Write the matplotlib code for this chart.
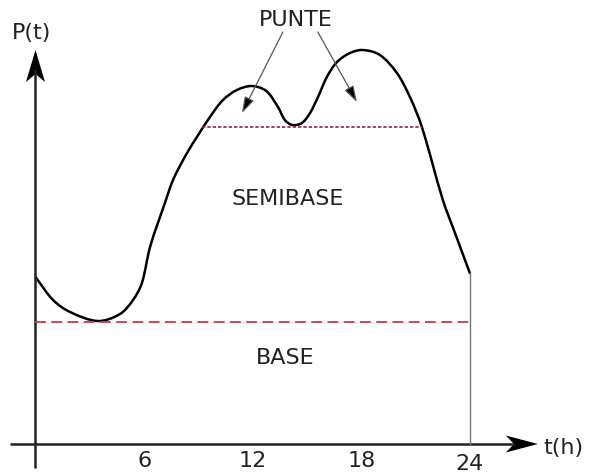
import matplotlib
matplotlib.use("Agg")
import matplotlib.pyplot as plt
from matplotlib.patches import Polygon, PathPatch
from matplotlib.path import Path

# ---- data ----
t_vals = [0.0, 0.97, 1.91, 3.45, 4.67, 5.39, 5.88, 6.33, 7.15, 7.60, 8.31, 8.92, 9.64,
          10.36, 11.13, 11.96, 12.75, 13.40, 13.78, 14.20, 14.72, 15.17, 15.61,
          16.10, 16.66, 17.38, 18.09, 19.03, 19.97, 20.69, 21.35, 22.51,
          23.18, 24.0]
p_vals = [16.7, 14.4, 13.2, 12.3, 13.0, 14.4, 16.1, 19.7, 24.1, 26.4, 28.9, 30.7, 32.7,
          34.4, 35.4, 35.8, 35.3, 33.7, 32.4, 31.9, 32.1, 33.1, 34.7,
          36.7, 38.2, 39.1, 39.4, 38.9, 37.1, 34.7, 31.7, 24.4,
          21.1, 17.1]
base_level = 12.2
semibase_level = 31.7
semibase_start, semibase_end = 9.2, 21.35
t_end = 24
tick_values = [6, 12, 18, 24]
tick_labels = ["6", "12", "18", "24"]

fig = plt.figure(figsize=(5.9, 4.73), dpi=100)
ax = fig.add_axes([0, 0, 1, 1])
ax.set_xlim(-1.961, 30.64)
ax.set_ylim(-2.9, 44.4)
ax.axis("off")

fs = 16
tc = "#222222"
sx, sy = 18.1, 10.0  # px per data unit

# axes lines
ax.plot([0, 0], [-2.4, 37.5], color=tc, lw=1.8, solid_capstyle="butt")
ax.plot([-1.41, 26.5], [0, 0], color=tc, lw=1.8, solid_capstyle="butt")

# arrow heads (stealth-like)
ytip = 39.4
ax.add_patch(Polygon([(0, ytip), (-9.5 / sx, ytip - 32 / sy), (0, ytip - 24 / sy),
                      (9.5 / sx, ytip - 32 / sy)], closed=True, color="black", lw=0))
xtip = 27.76
ax.add_patch(Polygon([(xtip, 0), (xtip - 32 / sx, 8.5 / sy), (xtip - 24 / sx, 0),
                      (xtip - 32 / sx, -8.5 / sy)], closed=True, color="black", lw=0))

# base and semibase lines
ax.plot([0, t_end], [base_level, base_level], color="#c8384a", lw=1.3,
        dashes=(6, 3))
ax.plot([semibase_start, semibase_end], [semibase_level, semibase_level],
        color="#9b2335", lw=1.2, dashes=(2, 1.2))

# load curve: smooth Bezier path through the read points (chord-length tangents)
pts = [(t * sx, p * sy) for t, p in zip(t_vals, p_vals)]
n = len(pts)
d = [((pts[i + 1][0] - pts[i][0]) ** 2 + (pts[i + 1][1] - pts[i][1]) ** 2) ** 0.5
     for i in range(n - 1)]
tang = []
for i in range(n):
    if i == 0:
        tang.append(((pts[1][0] - pts[0][0]) / d[0], (pts[1][1] - pts[0][1]) / d[0]))
    elif i == n - 1:
        tang.append(((pts[-1][0] - pts[-2][0]) / d[-1], (pts[-1][1] - pts[-2][1]) / d[-1]))
    else:
        s = d[i - 1] + d[i]
        tang.append(((pts[i + 1][0] - pts[i - 1][0]) / s,
                     (pts[i + 1][1] - pts[i - 1][1]) / s))
verts = [pts[0]]
codes = [Path.MOVETO]
for i in range(n - 1):
    L = d[i] / 3
    c1 = (pts[i][0] + tang[i][0] * L, pts[i][1] + tang[i][1] * L)
    c2 = (pts[i + 1][0] - tang[i + 1][0] * L, pts[i + 1][1] - tang[i + 1][1] * L)
    verts += [c1, c2, pts[i + 1]]
    codes += [Path.CURVE4] * 3
verts = [(x / sx, y / sy) for x, y in verts]
ax.add_patch(PathPatch(Path(verts, codes), fill=False, ec="black", lw=1.8,
                       capstyle="round", joinstyle="round"))

# closing vertical line at 24 h
ax.plot([t_end, t_end], [0, p_vals[-1]], color="#777777", lw=1.0)

# tick labels
for tv, tl in zip(tick_values, tick_labels):
    dy = -1.65 if tv != 24 else -2.0
    ax.text(tv, dy, tl, ha="center", va="center", fontsize=fs, color=tc)

# labels
ax.text(-0.2, 41.1, "P(t)", ha="center", va="center", fontsize=fs, color=tc)
ax.text(29.15, -0.4, "t(h)", ha="center", va="center", fontsize=fs, color=tc)
ax.text(14.4, 42.4, "PUNTE", ha="center", va="center", fontsize=fs, color=tc)
ax.text(13.95, 24.5, "SEMIBASE", ha="center", va="center", fontsize=fs, color=tc)
ax.text(13.8, 8.6, "BASE", ha="center", va="center", fontsize=fs, color=tc)

# annotation arrows
arrow_kw = dict(arrowstyle="-|>,head_length=0.7,head_width=0.22", fc="black",
                ec="#555555", lw=0.9, mutation_scale=14, shrinkA=0, shrinkB=0)
ax.annotate("", xy=(11.41, 33.1), xytext=(13.67, 41.2), arrowprops=arrow_kw)
ax.annotate("", xy=(17.76, 34.2), xytext=(15.6, 41.2), arrowprops=arrow_kw)

fig.savefig("out.png", dpi=100)
